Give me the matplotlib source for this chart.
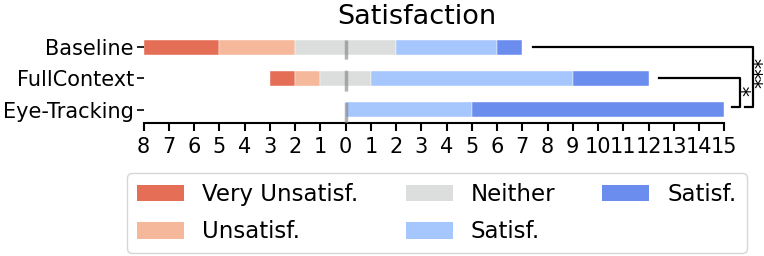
import numpy as np
import matplotlib.pyplot as plt
from matplotlib.patches import Patch

# responses per condition (counts)
categories = ['Baseline', 'FullContext', 'Eye-Tracking']
very_unsat = [3, 1, 0]
unsat = [3, 1, 0]
neither = [4, 2, 0]
sat = [4, 8, 5]
very_sat = [1, 3, 10]

levels = ['Very Unsatisf.', 'Unsatisf.', 'Neither', 'Satisf.', 'Satisf.']
colors = ['#e46e56', '#f6b89b', '#dcdddd', '#a6c6fe', '#6b8ded']

# significance: (row a, row b, label)
sig_pairs = [(0, 2, '***'), (1, 2, '*')]

xticks = list(range(-8, 16))

plt.rcParams['font.size'] = 15

fig = plt.figure(figsize=(7.64, 2.56), dpi=100)
ax = fig.add_axes([0.188, 0.52, 0.76, 0.325])

y = np.arange(len(categories))
data = np.array([very_unsat, unsat, neither, sat, very_sat], dtype=float)
left = -(data[0] + data[1] + data[2] / 2)
for i in range(len(levels)):
    ax.barh(y, data[i], left=left, height=0.48, color=colors[i],
            edgecolor='white', linewidth=0.3)
    left = left + data[i]

ax.axvline(0, color='grey', linestyle='--', linewidth=2.5, alpha=0.6,
           dashes=(6, 3.2), zorder=5)

ax.set_xlim(-8, 15)
ax.set_ylim(2.42, -0.24)
ax.set_yticks(y)
ax.set_yticklabels(categories, fontsize=15)
ax.set_xticks(xticks)
ax.set_xticklabels([str(abs(t)) for t in xticks], fontsize=15)
ax.tick_params(axis='x', length=6, width=1.5, pad=4)
ax.tick_params(axis='y', length=5, width=1.2, pad=2)
for s in ['top', 'right', 'left']:
    ax.spines[s].set_visible(False)
ax.spines['bottom'].set_linewidth(1.5)
ax.set_title('Satisfaction', fontsize=19.5, pad=11, x=0.471)

# significance brackets
ends = data.sum(axis=0) - (data[0] + data[1] + data[2] / 2)
bracket_x = {(0, 2): 16.13, (1, 2): 15.62}
star_pos = {(0, 2): (16.56, 0.82), (1, 2): (16.06, 1.4)}
for a, b, lab in sig_pairs:
    bx = bracket_x[(a, b)]
    xs = [ends[a] + 0.42, bx, bx, bx - 0.3]
    ys = [a, a, b - 0.1, b - 0.1]
    ax.plot(xs, ys, color='black', linewidth=1.6, clip_on=False)
    sx, sy = star_pos[(a, b)]
    ax.text(sx, sy, lab, rotation=90, ha='center', va='center',
            fontsize=15, clip_on=False)

handles = [Patch(facecolor=c, label=l) for c, l in zip(colors, levels)]
fig.legend(handles=handles, ncol=3, loc='lower center',
           bbox_to_anchor=(0.572, 0.012), borderaxespad=0, fontsize=16.5,
           handlelength=2.05, handleheight=0.75, columnspacing=2.05,
           borderpad=0.42, labelspacing=0.62, handletextpad=0.8,
           frameon=True)

fig.savefig('out.png', dpi=100)
